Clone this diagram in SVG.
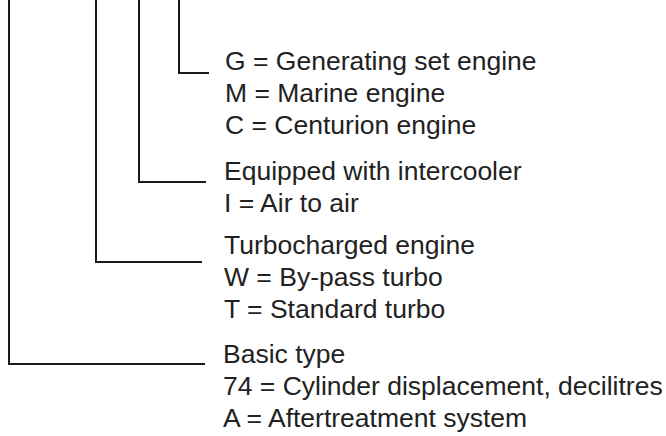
<svg xmlns="http://www.w3.org/2000/svg" width="666" height="436" viewBox="0 0 666 436">
<style>
.c{fill:none;stroke:#1a1a1a;stroke-width:2}
.t{font-family:"Liberation Sans",Arial,sans-serif;font-size:26.5px;fill:#222}
</style>
<rect width="666" height="436" fill="#fff"/>
<g id="connectors">
<polyline class="c" points="179,0 179,73 209,73"/>
<polyline class="c" points="139,0 139,182 206,182"/>
<polyline class="c" points="96,0 96,262 202,262"/>
<polyline class="c" points="9,0 9,364 205,364"/>
</g>
<g id="application">
<text class="t" x="225" y="70">G = Generating set engine</text>
<text class="t" x="225" y="102">M = Marine engine</text>
<text class="t" x="225" y="134">C = Centurion engine</text>
</g>
<g id="intercooler">
<text class="t" x="224" y="180">Equipped with intercooler</text>
<text class="t" x="224" y="212">I = Air to air</text>
</g>
<g id="turbo">
<text class="t" x="224" y="254">Turbocharged engine</text>
<text class="t" x="224" y="286">W = By-pass turbo</text>
<text class="t" x="224" y="318">T = Standard turbo</text>
</g>
<g id="basic">
<text class="t" x="223" y="363">Basic type</text>
<text class="t" x="223" y="395">74 = Cylinder displacement, decilitres</text>
<text class="t" x="223" y="427">A = Aftertreatment system</text>
</g>
</svg>
